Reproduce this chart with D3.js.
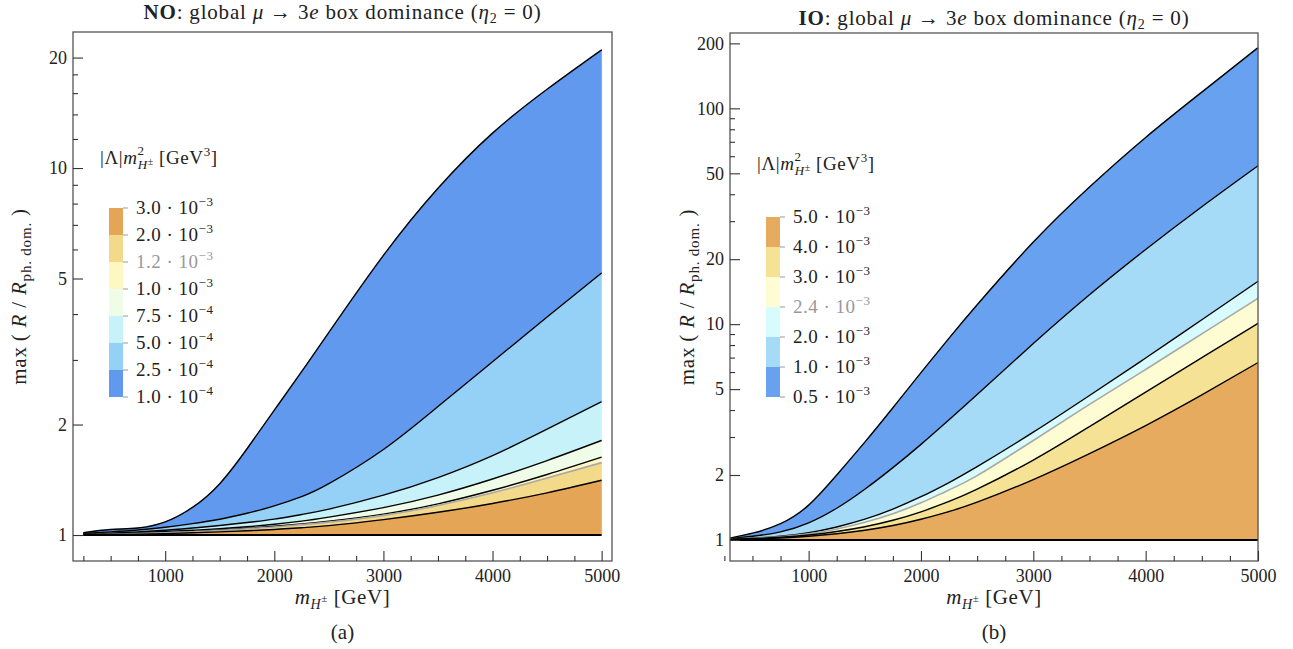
<!DOCTYPE html>
<html>
<head>
<meta charset="utf-8">
<script src="https://cdn.jsdelivr.net/npm/d3@7"></script>
<style>
  body { margin: 0; background: #fff; }
  text { font-family: "Liberation Serif", "Times New Roman", serif; fill: #222; }
</style>
</head>
<body>
<svg id="fig" width="1293" height="649"></svg>
<script>
// ---- NO panel (a) ----
var noMass  = [250, 500, 750, 1000, 1250, 1500, 1750, 2000, 2250, 2500, 3000, 3500, 4000, 4500, 5000];
var no_1e4  = [1.015, 1.035, 1.045, 1.086, 1.189, 1.38, 1.718, 2.188, 2.786, 3.565, 5.78, 8.81, 12.45, 16.4, 21.0];
var no_25e4 = [1.01, 1.02, 1.032, 1.05, 1.074, 1.104, 1.146, 1.2, 1.272, 1.38, 1.71, 2.239, 2.965, 3.926, 5.176];
var no_5e4  = [1.005, 1.012, 1.02, 1.0304, 1.0447, 1.0617, 1.0814, 1.105, 1.137, 1.176, 1.284, 1.434, 1.646, 1.943, 2.31];
var no_75e4 = [1.003, 1.008, 1.014, 1.022, 1.03, 1.0406, 1.0535, 1.07, 1.0908, 1.1187, 1.1877, 1.2847, 1.421, 1.595, 1.81];
var no_1e3  = [1.002, 1.006, 1.01, 1.016, 1.023, 1.032, 1.043, 1.056, 1.072, 1.091, 1.14, 1.216, 1.324, 1.462, 1.63];
var no_12e3 = [1.0015, 1.005, 1.009, 1.0145, 1.021, 1.029, 1.04, 1.052, 1.067, 1.084, 1.131, 1.203, 1.303, 1.43, 1.575];
var no_2e3  = [1.001, 1.003, 1.005, 1.009, 1.014, 1.02, 1.027, 1.0356, 1.0466, 1.0605, 1.1015, 1.153, 1.219, 1.303, 1.41];
var noLevelMant = ["1.0", "2.5", "5.0", "7.5", "1.0", "1.2", "2.0", "3.0"];
var noLevelExp  = [-4, -4, -4, -4, -3, -3, -3, -3];
var noColors = ["#6199ee", "#95d0f6", "#c7f2fa", "#effde8", "#fdf7c2", "#f3d98a", "#e5a557"];

// ---- IO panel (b) ----
var ioMass  = [300, 500, 750, 1000, 1250, 1500, 1750, 2000, 2250, 2500, 3000, 3500, 4000, 4500, 5000];
var io_05e3 = [1.02, 1.075, 1.19, 1.45, 2.0, 2.84, 4.1, 5.96, 8.61, 12.3, 24.0, 43.2, 73.3, 118.9, 191];
var io_1e3  = [1.015, 1.04, 1.09, 1.2, 1.403, 1.718, 2.163, 2.773, 3.606, 4.72, 8.13, 13.68, 22.18, 35.0, 54.2];
var io_2e3  = [1.01, 1.02, 1.04, 1.08, 1.149, 1.248, 1.391, 1.586, 1.846, 2.185, 3.159, 4.671, 6.97, 10.48, 15.79];
var io_24e3 = [1.009, 1.018, 1.035, 1.067, 1.125, 1.208, 1.324, 1.486, 1.706, 1.986, 2.891, 4.246, 6.166, 9.016, 13.18];
var io_3e3  = [1.008, 1.015, 1.03, 1.055, 1.095, 1.152, 1.234, 1.35, 1.508, 1.719, 2.346, 3.353, 4.845, 7.0, 10.08];
var io_4e3  = [1.005, 1.01, 1.02, 1.04, 1.069, 1.109, 1.167, 1.247, 1.355, 1.496, 1.905, 2.512, 3.388, 4.699, 6.637];
var ioLevelMant = ["0.5", "1.0", "2.0", "2.4", "3.0", "4.0", "5.0"];
var ioLevelExp  = [-3, -3, -3, -3, -3, -3, -3];
var ioColors = ["#67a1f0", "#a6dbf8", "#d8fbfd", "#fefcd2", "#f6e295", "#e6ab5f"];

var xMajor = [1000, 2000, 3000, 4000, 5000];
var xMinor = [250, 500, 750, 1250, 1500, 1750, 2250, 2500, 2750, 3250, 3500, 3750, 4250, 4500, 4750];

var svg = d3.select("#fig");

// write a line of text made of styled pieces
function rich(g, x, y, parts, size, anchor, spacing) {
  var t = g.append("text").attr("x", x).attr("y", y)
    .attr("font-size", size).attr("text-anchor", anchor || "middle");
  if (spacing) t.attr("letter-spacing", spacing);
  parts.forEach(function(p) {
    var s = t.append("tspan").text(p.t);
    if (p.i) s.attr("font-style", "italic");
    if (p.b) s.attr("font-weight", "bold");
    if (p.fs) s.attr("font-size", p.fs);
    if (p.dy) s.attr("dy", p.dy);
    if (p.dx) s.attr("dx", p.dx);
    if (p.fill) s.style("fill", p.fill);
  });
  return t;
}

function panel(cfg) {
  var g = svg.append("g");
  var x = d3.scaleLinear().domain(cfg.xDomain).range(cfg.xRange);
  var y = d3.scaleLog().domain(cfg.yDomain).range(cfg.yRange);
  var ones = cfg.mass.map(function() { return 1; });
  var curves = cfg.curves.concat([ones]);

  // bands between successive contour lines (top band first)
  cfg.colors.forEach(function(col, k) {
    var hi = curves[k], lo = curves[k + 1];
    var area = d3.area()
      .x(function(d, i) { return x(cfg.mass[i]); })
      .y0(function(d, i) { return y(lo[i]); })
      .y1(function(d, i) { return y(hi[i]); })
      .curve(d3.curveNatural);
    g.append("path").attr("d", area(cfg.mass)).attr("fill", col).attr("stroke", col).attr("stroke-width", 0.5);
  });

  curves.forEach(function(c, k) {
    var line = d3.line()
      .x(function(d, i) { return x(cfg.mass[i]); })
      .y(function(d, i) { return y(c[i]); })
      .curve(d3.curveNatural);
    var gray = (k === cfg.grayLine);
    g.append("path").attr("d", line(cfg.mass)).attr("fill", "none")
      .attr("stroke", gray ? "#a8a8a8" : "#000")
      .attr("stroke-width", k === curves.length - 1 ? 2 : (gray ? 1.6 : 1.4));
  });

  // frame
  var x0 = cfg.xRange[0], x1 = cfg.xRange[1], y0 = cfg.yRange[1], y1 = cfg.yRange[0];
  g.append("rect").attr("x", x0).attr("y", y0).attr("width", x1 - x0).attr("height", y1 - y0)
    .attr("fill", "none").attr("stroke", "#555").attr("stroke-width", 1.3);

  // axes with inward ticks
  g.append("g").attr("transform", "translate(0," + y1 + ")")
    .call(d3.axisBottom(x).tickValues(xMajor).tickSize(-10).tickPadding(8).tickFormat(d3.format("d")));
  g.append("g").attr("transform", "translate(0," + y1 + ")")
    .call(d3.axisBottom(x).tickValues(xMinor).tickSize(-5).tickFormat(""));
  g.append("g").attr("transform", "translate(" + x0 + ",0)")
    .call(d3.axisLeft(y).tickValues(cfg.yMajor).tickSize(-10).tickPadding(6).tickFormat(d3.format("d")));
  g.append("g").attr("transform", "translate(" + x0 + ",0)")
    .call(d3.axisLeft(y).tickValues(cfg.yMinor).tickSize(-5).tickFormat(""));
  g.selectAll(".domain").remove();
  g.selectAll(".tick line").attr("stroke", "#333").attr("stroke-width", 1.1);
  g.selectAll(".tick text").attr("font-size", 18).attr("font-family", "Liberation Serif").style("fill", "#222");

  var cx = (x0 + x1) / 2;
  // title
  rich(g, cx, cfg.titleY, [
    { t: cfg.tag, b: true }, { t: ": global " }, { t: "\u03bc", i: true }, { t: " \u2192 3" },
    { t: "e", i: true }, { t: " box dominance (" }, { t: "\u03b7", i: true },
    { t: "2", fs: 14, dy: 4 }, { t: " = 0)", dy: -4 }
  ], 21, "middle", 0.8);
  // x label
  rich(g, cx, 604, [
    { t: "m", i: true }, { t: "H", i: true, fs: 14, dy: 5 }, { t: "\u00b1", fs: 11, dy: -7 },
    { t: " [GeV]", dy: 2 }
  ], 21, "middle", 0.6);
  rich(g, cx, 639, [{ t: cfg.sub }], 21);
  // y label
  var yl = rich(g, 0, 0, [
    { t: "max\u2009( " }, { t: "R", i: true }, { t: " / " }, { t: "R", i: true },
    { t: "ph. dom.", fs: 15, dy: 5 }, { t: " )", dy: -5 }
  ], 21, "middle", 0.8);
  yl.attr("transform", "translate(" + cfg.yLabelX + "," + ((y0 + y1) / 2) + ") rotate(-90)");

  // legend (lowest level at the bottom)
  var lg = cfg.legend;
  rich(g, lg.x - 9, lg.titleY, [
    { t: "|\u039b|" }, { t: "m", i: true }, { t: "2", fs: 13, dy: -9 },
    { t: "H", i: true, fs: 13, dx: -7, dy: 14 }, { t: "\u00b1", fs: 10, dy: -4 },
    { t: " [GeV", dy: -1 }, { t: "3", fs: 13, dy: -8 }, { t: "]", dy: 8 }
  ], 19, "start", 0.6);
  var n = cfg.colors.length;
  var ly = d3.scaleLinear().domain([0, n]).range([lg.bottom, lg.top]);
  cfg.colors.forEach(function(col, k) {
    g.append("rect").attr("x", lg.x).attr("y", ly(k + 1)).attr("width", 14)
      .attr("height", ly(k) - ly(k + 1)).attr("fill", col);
  });
  cfg.levelMant.forEach(function(m, k) {
    g.append("line").attr("x1", lg.x + 14).attr("x2", lg.x + 19)
      .attr("y1", ly(k)).attr("y2", ly(k)).attr("stroke", "#999").attr("stroke-width", 1);
    var col = (k === cfg.grayLabel) ? "#999" : "#222";
    rich(g, lg.x + 27, ly(k) + 6, [
      { t: m + " \u00b7 10", fill: col }, { t: "\u2212" + Math.abs(cfg.levelExp[k]), fs: 13, dy: -8, fill: col }
    ], 19, "start", 0.5);
  });
}

panel({
  tag: "NO", sub: "(a)", titleY: 19, yLabelX: 26,
  mass: noMass,
  curves: [no_1e4, no_25e4, no_5e4, no_75e4, no_1e3, no_12e3, no_2e3],
  grayLine: 5,
  colors: noColors, levelMant: noLevelMant, levelExp: noLevelExp, grayLabel: 5,
  xDomain: [155, 5095], xRange: [73, 612],
  yDomain: [0.8495, 23.48], yRange: [561, 32],
  yMajor: [1, 2, 5, 10, 20], yMinor: [3, 4, 6, 7, 8, 9, 12, 14, 16, 18],
  legend: { x: 109, top: 208, bottom: 397, titleY: 164 }
});

panel({
  tag: "IO", sub: "(b)", titleY: 25, yLabelX: 694,
  mass: ioMass,
  curves: [io_05e3, io_1e3, io_2e3, io_24e3, io_3e3, io_4e3],
  grayLine: 3,
  colors: ioColors, levelMant: ioLevelMant, levelExp: ioLevelExp, grayLabel: 3,
  xDomain: [300, 5000], xRange: [730, 1258],
  yDomain: [0.799, 223.4], yRange: [561, 33],
  yMajor: [1, 2, 5, 10, 20, 50, 100, 200], yMinor: [3, 4, 6, 7, 8, 9, 30, 40, 60, 70, 80, 90],
  legend: { x: 766, top: 217, bottom: 397, titleY: 170 }
});
</script>
</body>
</html>
